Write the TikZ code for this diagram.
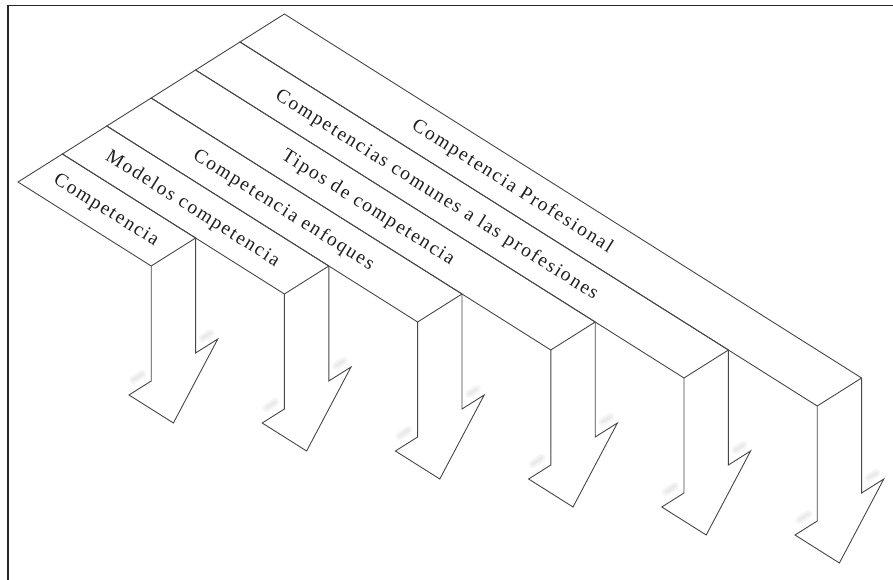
\documentclass[tikz,border=0pt]{standalone}
\usepackage{fontspec}
\usetikzlibrary{calc}
\newfontfamily\stripfont[LetterSpace=9]{Liberation Serif}
\begin{document}
\begin{tikzpicture}[x=1pt,y=-1pt,
  frameline/.style={draw=black!85,line width=1.6pt},
  stripline/.style={draw=black!72,line width=0.9pt,line join=miter,fill=white},
  smudge/.style={line cap=round,draw=black!4,line width=8pt},
  smudgecore/.style={line cap=round,draw=black!8,line width=3.5pt},
  striplabel/.style={inner sep=0pt,text=black!88,font=\stripfont\fontsize{19.5}{22}\selectfont}]
\useasboundingbox (0,0) rectangle (893,580);
\fill[white] (0,0) rectangle (893,580);
% outer frame (top and left sides)
\draw[frameline] (8,580) -- (8,5.5) -- (893,5.5);
% isometric axes: E1 runs across the strips, E2 along them
\coordinate (O) at (18,182);
\coordinate (E1) at (44.4,-28);
\coordinate (E2) at (44.4,28);
\foreach \i in {5,4,3,2,1,0}{
  \pgfmathsetmacro\len{2*\i+3}
  \coordinate (bl\i) at ($(O)+\i*(E1)$);
  \coordinate (br\i) at ($(bl\i)+(E1)$);
  \coordinate (fl\i) at ($(bl\i)+\len*(E2)$);
  \coordinate (fr\i) at ($(br\i)+\len*(E2)$);
  \coordinate (dl\i) at ($(fl\i)+(0,115)$);
  \coordinate (dr\i) at ($(fr\i)+(0,115)$);
  \coordinate (wl\i) at ($(dl\i)-0.5*(E1)$);
  \coordinate (wr\i) at ($(dr\i)+0.5*(E1)$);
  \coordinate (tip\i) at ($(fl\i)!0.5!(fr\i)+(0,171)$);
  % soft highlights at the arrow shoulders
  \draw[smudge] ($(dl\i)+(-18,-1)$) -- ($(dl\i)+(-9,-7)$);
  \draw[smudgecore] ($(dl\i)+(-18,-1)$) -- ($(dl\i)+(-9,-7)$);
  \draw[smudge] ($(dr\i)+(7,-15)$) -- ($(dr\i)+(15,-20)$);
  \draw[smudgecore] ($(dr\i)+(7,-15)$) -- ($(dr\i)+(15,-20)$);
}
\foreach \i/\lab/\tpos in {5/Competencia Profesional/5.65,
                           4/Competencias comunes a las profesiones/4.95,
                           3/Tipos de competencia/4.4,
                           2/Competencia enfoques/3.5,
                           1/Modelos competencia/2.45,
                           0/Competencia/1.5}{
  \pgfmathsetmacro\sc{\i+0.48}
  % strip top face bending down into an arrow
  \draw[stripline,fill=none] (bl\i) -- (br\i) -- (fr\i) -- (dr\i) -- (wr\i) -- (tip\i)
        -- (wl\i) -- (dl\i) -- (fl\i) -- cycle;
  \draw[stripline] (fl\i) -- (fr\i);
  % label
  \node[striplabel,rotate=-32.2] (lab\i) at ($(O)+\sc*(E1)+\tpos*(E2)$) {\lab};
}
\end{tikzpicture}
\end{document}
